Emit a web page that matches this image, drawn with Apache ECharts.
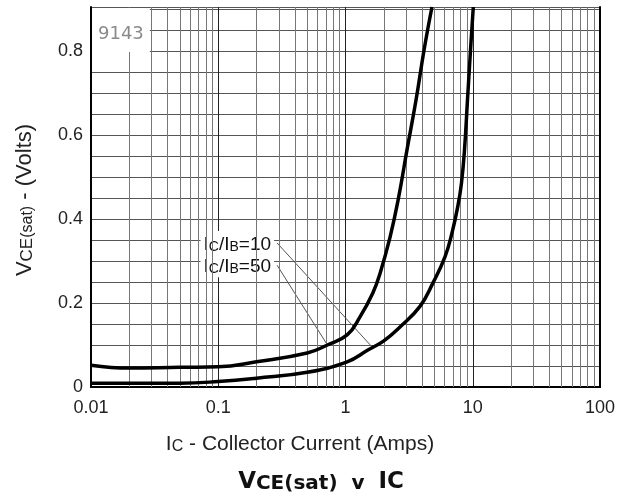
<!DOCTYPE html>
<html><head><meta charset="utf-8">
<script src="https://cdn.jsdelivr.net/npm/echarts@6/dist/echarts.min.js"></script>
<style>html,body{margin:0;padding:0;background:#fff}#c{width:623px;height:498px}</style>
</head><body><div id="c"></div>
<script>
// ---- data ----
const xTicks = [0.01, 0.1, 1, 10, 100];
const yTicks = [0, 0.2, 0.4, 0.6, 0.8];
const minorMultipliers = [2, 3, 4, 5, 6, 7, 8, 9];
const decades = [0.01, 0.1, 1, 10];
// Ic/IB = 50 (upper curve)
const ic50 = [0.01, 0.02, 0.05, 0.1, 0.2, 0.5, 0.72, 1.03, 1.3, 1.64, 1.87, 2.24, 2.59, 3.04, 3.58, 4.14, 4.78];
const v50  = [0.052, 0.045, 0.047, 0.048, 0.060, 0.081, 0.100, 0.124, 0.167, 0.224, 0.271, 0.357, 0.445, 0.564, 0.683, 0.802, 0.905];
// Ic/IB = 10 (lower curve)
const ic10 = [0.01, 0.05, 0.1, 0.2, 0.5, 1.03, 1.5, 2.0, 2.68, 3.85, 4.87, 6.05, 6.87, 7.66, 8.15, 8.61, 9.09, 9.6, 10.1];
const v10  = [0.009, 0.009, 0.013, 0.021, 0.035, 0.060, 0.088, 0.110, 0.143, 0.192, 0.248, 0.310, 0.367, 0.433, 0.485, 0.564, 0.683, 0.802, 0.905];
// leader lines (label anchor -> curve)
const leader10 = [[0.29, 0.343], [1.61, 0.096]];
const leader50 = [[0.29, 0.290], [0.711, 0.103]];
const label10 = '10';
const label50 = '50';
const chartId = '9143';

// ---- build ----
const minorX = [];
decades.forEach(d => minorMultipliers.forEach(m => minorX.push(+(d * m).toPrecision(3))));
const pair = (xs, ys) => xs.map((x, i) => [x, ys[i]]);
const FONT = '"Liberation Sans", Arial, sans-serif';
const WIDE = '"DejaVu Sans", sans-serif';
const isMajorY = v => Math.abs(v / 0.2 - Math.round(v / 0.2)) < 1e-6;
// rich token styles sharing a common baseline
function tok(size, baseSize, baseLH, extra) {
  const lh = baseLH - 0.693 * (baseSize - size);
  return Object.assign({fontSize: size, lineHeight: lh, verticalAlign: 'bottom'}, extra);
}

const labelRich = {
  b: tok(19, 19, 22, {fontFamily: FONT, color: '#111'}),
  s: tok(14, 19, 22, {fontFamily: FONT, color: '#111'})
};
function leaderSeries(pts, ratio) {
  return {
    type: 'line', silent: true, z: 3,
    symbol: 'circle', symbolSize: 0, showSymbol: true,
    lineStyle: {color: '#555', width: 1},
    itemStyle: {color: '#555'},
    data: [
      {value: pts[0], label: {show: true, position: 'left', distance: 3,
        formatter: '{b|I}{s|C}{b|/I}{s|B}{b|=' + ratio + '}',
        backgroundColor: '#fff', padding: [1, 3, 1, 3], rich: labelRich}},
      {value: pts[1]}
    ]
  };
}

const axName = {fontFamily: FONT, fill: '#222'};
const ttl = {fontFamily: WIDE, fontWeight: 'bold', fill: '#111'};

const chart = echarts.init(document.getElementById('c'));
chart.setOption({
  animation: false,
  backgroundColor: '#fff',
  grid: {left: 91, right: 23, top: 7, bottom: 111},
  xAxis: [{
    type: 'log', logBase: 10, min: xTicks[0], max: xTicks[xTicks.length - 1],
    axisLine: {show: true, lineStyle: {color: '#000', width: 2}},
    axisTick: {show: false},
    axisLabel: {margin: 12, fontSize: 18, fontFamily: FONT, color: '#222',
      formatter: v => xTicks.find(t => Math.abs(t - v) / t < 1e-6) !== undefined ? String(+v.toPrecision(3)) : ''},
    splitLine: {show: true, lineStyle: {color: '#222', width: 1}}
  }, {
    type: 'log', logBase: 10, min: xTicks[0], max: xTicks[xTicks.length - 1], position: 'top',
    axisLine: {show: true, lineStyle: {color: '#000', width: 2}},
    axisTick: {show: false}, axisLabel: {show: false}, splitLine: {show: false}
  }],
  yAxis: [{
    type: 'value', min: 0, max: 0.905, interval: 0.05,
    axisLine: {show: true, lineStyle: {color: '#000', width: 2}},
    axisTick: {show: false},
    axisLabel: {margin: 8, fontSize: 18, fontFamily: FONT, color: '#222',
      formatter: v => isMajorY(v) && yTicks.some(t => Math.abs(t - v) < 1e-6) ? (v === 0 ? '0' : v.toFixed(1)) : ''},
    splitLine: {show: true, lineStyle: {color: '#555', width: 1}}
  }, {
    type: 'value', min: 0, max: 0.905, position: 'right',
    axisLine: {show: true, lineStyle: {color: '#000', width: 2}},
    axisTick: {show: false}, axisLabel: {show: false}, splitLine: {show: false}
  }],
  graphic: [
    {type: 'text', x: 92, y: 8, z: 10, style: {text: chartId, font: '18px ' + WIDE, fill: '#8a8a8a',
      backgroundColor: '#fff', padding: [17, 6, 9, 6]}},
    {type: 'text', x: 300, y: 442, style: {
      text: '{b|I}{s|C}{b| - Collector Current (Amps)}', align: 'center', verticalAlign: 'middle',
      rich: {b: tok(21, 21, 26, axName), s: tok(16, 21, 26, axName)}}},
    {type: 'text', x: 321, y: 480, style: {
      text: '{b|V}{s|CE}{m|(sat)}{m|  v  }{b|IC}', align: 'center', verticalAlign: 'middle',
      rich: {b: tok(23, 23, 28, ttl), s: tok(20, 23, 28, ttl), m: tok(20, 23, 28, ttl)}}},
    {type: 'text', x: 23, y: 200, rotation: Math.PI / 2, style: {
      text: '{b|V}{s|CE}{m|(sat)}{b| - (Volts)}', align: 'center', verticalAlign: 'middle',
      rich: {b: tok(22, 22, 26, axName), s: tok(17, 22, 26, axName), m: tok(16, 22, 26, axName)}}}
  ],
  series: [
    {
      type: 'line', silent: true, symbol: 'none', data: [],
      markLine: {silent: true, symbol: 'none', label: {show: false}, animation: false,
        lineStyle: {color: '#777', width: 1, type: 'solid'},
        data: minorX.map(v => ({xAxis: v}))}
    },
    leaderSeries(leader10, label10),
    leaderSeries(leader50, label50),
    {type: 'line', name: 'Ic/IB=50', z: 5, symbol: 'none', smooth: 0.45, clip: true,
      lineStyle: {color: '#000', width: 3.5}, data: pair(ic50, v50)},
    {type: 'line', name: 'Ic/IB=10', z: 5, symbol: 'none', smooth: 0.45, clip: true,
      lineStyle: {color: '#000', width: 3.5}, data: pair(ic10, v10)}
  ]
});
</script></body></html>
